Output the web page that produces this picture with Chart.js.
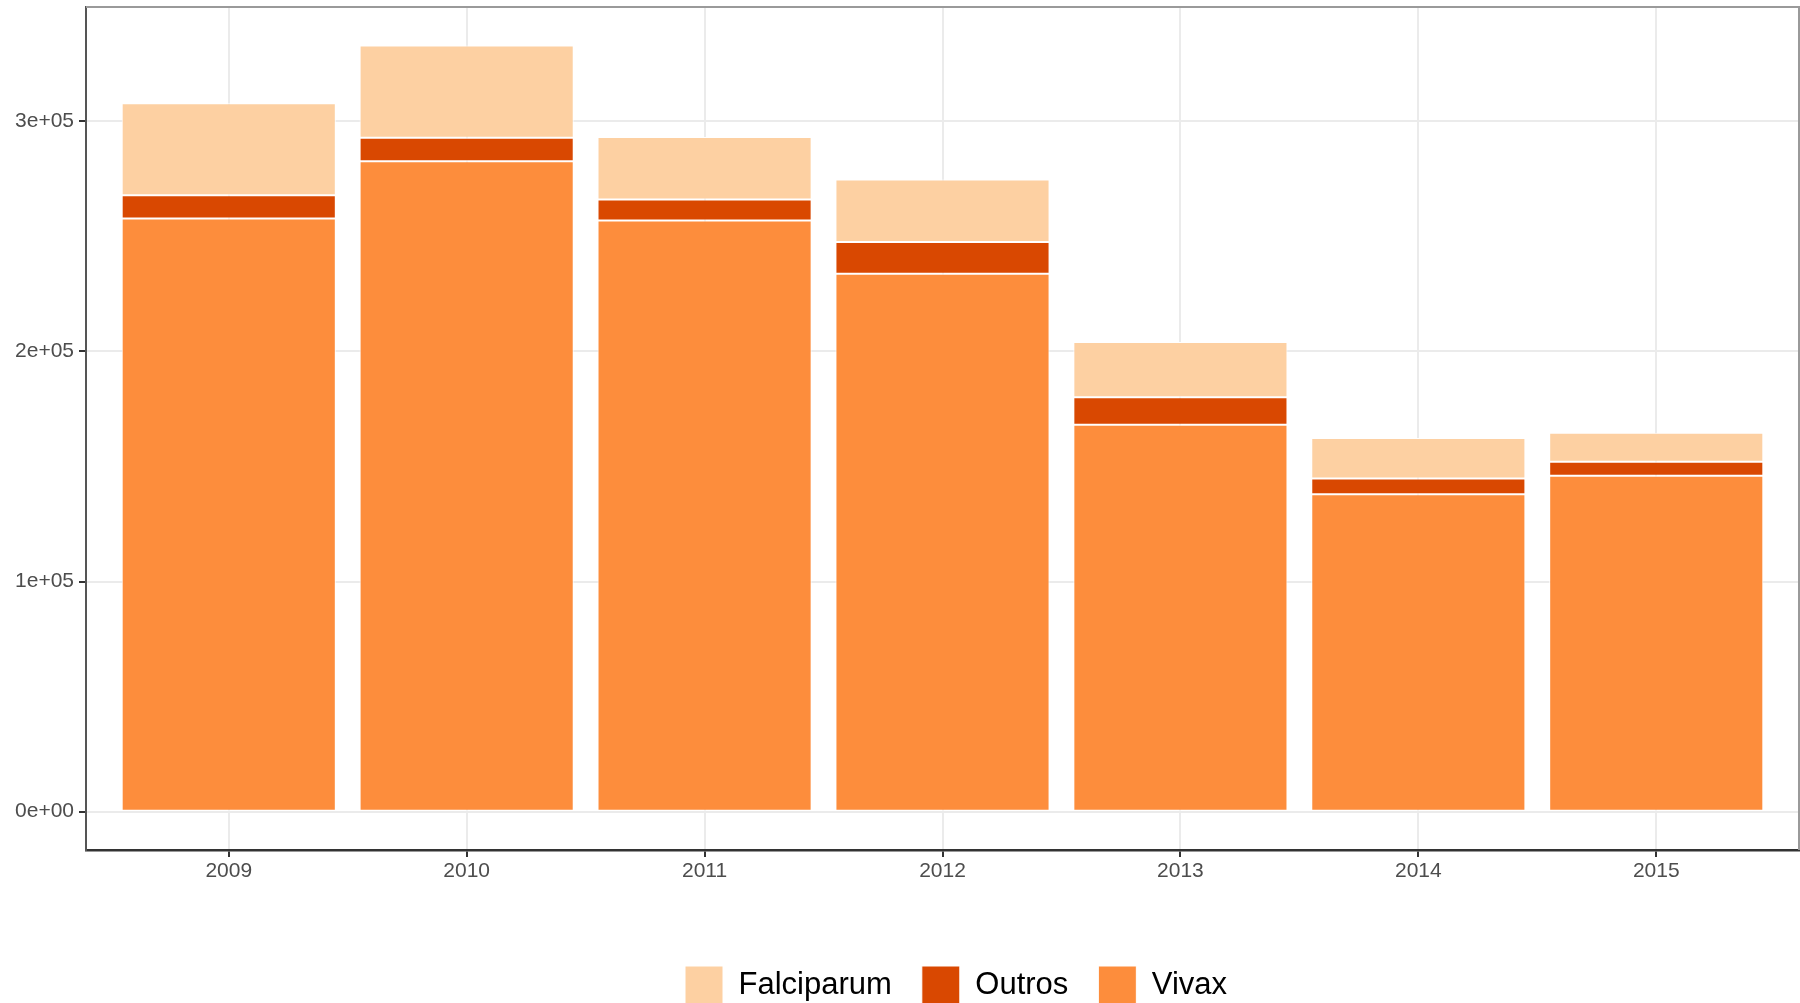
<!DOCTYPE html>
<html>
<head>
<meta charset="utf-8">
<script src="https://cdn.jsdelivr.net/npm/chart.js@4.4.1/dist/chart.umd.min.js"></script>
<style>
html,body{margin:0;padding:0;background:#fff;overflow:hidden}
#wrap{width:1800px;height:1003px;position:relative;background:#fff}
</style>
</head>
<body>
<div id="wrap"><canvas id="c" width="1800" height="1003"></canvas></div>
<script>
// ---- data ----
const years = [2009, 2010, 2011, 2012, 2013, 2014, 2015];
const vivax = [257700, 282600, 256900, 233700, 168100, 137900, 146000];
const outros = [10100, 10200, 9100, 13800, 12000, 6900, 6100];
const falciparum = [40000, 40100, 27200, 27200, 24000, 17600, 12500];
const yTickValues = [0, 100000, 200000, 300000];
const yTickLabels = ['0e+00', '1e+05', '2e+05', '3e+05'];
const seriesNames = ['Vivax', 'Outros', 'Falciparum'];
const seriesValues = [vivax, outros, falciparum];
const seriesColors = ['#FD8D3C', '#D94801', '#FDD0A2'];

Chart.defaults.font.family = "'Liberation Sans', Arial, sans-serif";

const datasets = seriesNames.map((name, k) => ({
  label: name,
  data: years.map((yr, i) => ({ x: yr, y: seriesValues[k][i] })),
  backgroundColor: seriesColors[k],
  borderColor: '#FFFFFF',
  borderWidth: 1,
  borderSkipped: false,
  barPercentage: 0.9,
  categoryPercentage: 1.0
}));

const panelBorder = {
  id: 'panelBorder',
  afterDatasetsDraw(chart) {
    const { ctx, chartArea: a } = chart;
    ctx.save();
    ctx.strokeStyle = '#9A9A9A';
    ctx.lineWidth = 2;
    ctx.beginPath();
    ctx.moveTo(a.left, a.top);
    ctx.lineTo(a.right, a.top);
    ctx.lineTo(a.right, a.bottom);
    ctx.stroke();
    ctx.restore();
  }
};

const legendPlace = {
  id: 'legendPlace',
  afterLayout(chart) {
    const lg = chart.legend;
    if (!lg) return;
    const pad = lg.options.labels.padding;
    const start = (lg.left + pad + lg.right - lg.lineWidths[0]) / 2;
    const dx = 685 - start;
    const dy = 936 - lg.top;
    lg.left += dx; lg.right += dx;
    lg.top += dy; lg.bottom += dy;
  }
};

new Chart(document.getElementById('c'), {
  type: 'bar',
  data: { datasets },
  options: {
    responsive: false,
    animation: false,
    devicePixelRatio: 1,
    layout: { padding: { top: 7, right: 1, bottom: 0, left: 0 } },
    plugins: {
      tooltip: { enabled: false },
      legend: {
        position: 'bottom',
        reverse: true,
        labels: {
          boxWidth: 38,
          boxHeight: 38,
          padding: 30,
          color: '#000000',
          font: { size: 31 }
        }
      }
    },
    scales: {
      x: {
        type: 'linear',
        min: 2008.4,
        max: 2015.6,
        stacked: true,
        offset: false,
        grid: { offset: false, color: '#EBEBEB', lineWidth: 2, tickColor: '#333333', tickWidth: 2, tickLength: 7, drawTicks: true },
        border: { color: '#333333', width: 2.5 },
        ticks: {
          color: '#4D4D4D',
          font: { size: 21 },
          padding: 2,
          autoSkip: false,
          maxRotation: 0,
          callback: v => String(v)
        },
        afterBuildTicks: s => { s.ticks = years.map(v => ({ value: v })); },
        afterFit: s => { s.height = 75; s.paddingLeft = 0; s.paddingRight = 0; }
      },
      y: {
        type: 'linear',
        min: -16650,
        max: 349650,
        stacked: true,
        grid: { color: '#EBEBEB', lineWidth: 2, tickColor: '#333333', tickWidth: 2, tickLength: 7, drawTicks: true },
        border: { color: '#555555', width: 2 },
        ticks: {
          color: '#4D4D4D',
          font: { size: 21 },
          padding: 5,
          callback: v => { const i = yTickValues.indexOf(v); return i >= 0 ? yTickLabels[i] : ''; }
        },
        afterBuildTicks: s => { s.ticks = yTickValues.map(v => ({ value: v })); },
        afterFit: s => { s.width = 86; s.paddingTop = 0; s.paddingBottom = 0; }
      }
    }
  },
  plugins: [panelBorder, legendPlace]
});
</script>
</body>
</html>
